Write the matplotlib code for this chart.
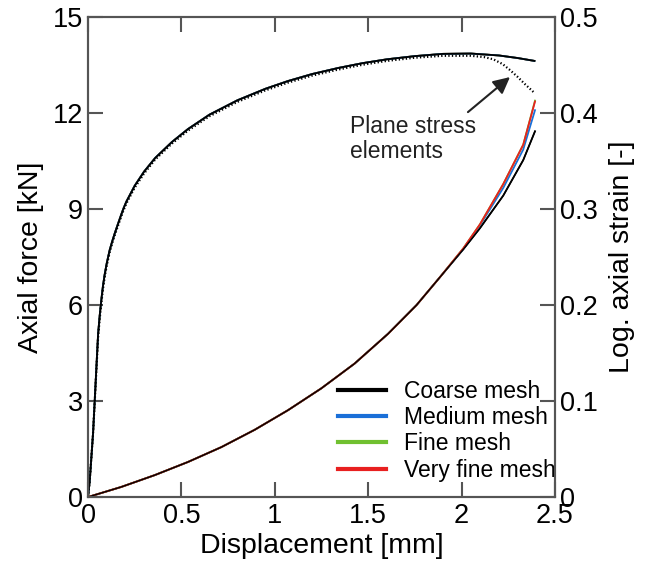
import matplotlib.pyplot as plt

plt.rcParams['font.family'] = ['Liberation Sans', 'DejaVu Sans']

# force-displacement (all meshes overlap)
disp = [0, 0.009, 0.027, 0.036, 0.045, 0.054, 0.063, 0.071, 0.08, 0.089, 0.1, 0.116,
        0.13, 0.143, 0.16, 0.178, 0.19, 0.205, 0.25, 0.3, 0.36, 0.45, 0.535, 0.65,
        0.8, 0.95, 1.07, 1.2, 1.34, 1.47, 1.6, 1.75, 1.9, 2.05, 2.2, 2.3, 2.39]
force = [0, 0.5, 2.0, 3.03, 4.07, 5.1, 5.7, 6.15, 6.6, 6.95, 7.3, 7.72,
         8.0, 8.24, 8.53, 8.83, 9.02, 9.23, 9.73, 10.17, 10.6, 11.1, 11.5, 11.95,
         12.4, 12.76, 13.0, 13.22, 13.41, 13.56, 13.68, 13.78, 13.85, 13.86, 13.8, 13.72, 13.63]

# plane stress elements (dotted)
disp_ps = [0, 0.009, 0.027, 0.036, 0.045, 0.054, 0.063, 0.071, 0.08, 0.089, 0.1, 0.116,
           0.13, 0.143, 0.16, 0.178, 0.19, 0.205, 0.25, 0.3, 0.36, 0.45, 0.535, 0.65,
           0.8, 0.95, 1.07, 1.2, 1.34, 1.47, 1.6, 1.75, 1.9, 2.05, 2.12, 2.17, 2.22,
           2.26, 2.3, 2.34, 2.39]
force_ps = [0, 0.5, 2.0, 3.0, 4.0, 5.0, 5.6, 6.05, 6.5, 6.87, 7.23, 7.65,
            7.94, 8.18, 8.47, 8.77, 8.96, 9.17, 9.67, 10.11, 10.55, 11.05, 11.45, 11.9,
            12.35, 12.71, 12.95, 13.17, 13.36, 13.51, 13.63, 13.73, 13.79, 13.79, 13.75, 13.68, 13.53,
            13.34, 13.13, 12.9, 12.63]

# log axial strain
disp_s = [0, 0.178, 0.357, 0.535, 0.714, 0.892, 1.071, 1.249, 1.427, 1.606, 1.759,
          1.884, 2.009, 2.098, 2.223, 2.33, 2.393]
strain_coarse = [0, 0.0105, 0.0228, 0.0365, 0.052, 0.07, 0.0905, 0.1132, 0.139, 0.17, 0.2,
                 0.229, 0.258, 0.28, 0.314, 0.351, 0.381]
strain_medium = [0, 0.0105, 0.0228, 0.0365, 0.052, 0.07, 0.0905, 0.1132, 0.139, 0.17, 0.2,
                 0.229, 0.2585, 0.283, 0.322, 0.362, 0.403]
strain_fine = [0, 0.0105, 0.0228, 0.0365, 0.052, 0.07, 0.0905, 0.1132, 0.139, 0.17, 0.2,
               0.229, 0.259, 0.284, 0.326, 0.367, 0.413]
strain_vfine = [0, 0.0105, 0.0228, 0.0365, 0.052, 0.07, 0.0905, 0.1132, 0.139, 0.17, 0.2,
                0.229, 0.259, 0.284, 0.326, 0.367, 0.412]

labels = ['Coarse mesh', 'Medium mesh', 'Fine mesh', 'Very fine mesh']
colors = ['black', '#1a6fd8', '#70c030', '#e82020']
strains = [strain_coarse, strain_medium, strain_fine, strain_vfine]

fig = plt.figure(figsize=(6.54, 5.69), dpi=100)
ax = fig.add_axes([0.1346, 0.1265, 0.714, 0.8435])
ax2 = ax.twinx()

spine_c = '#555555'
for a in (ax, ax2):
    for s in a.spines.values():
        s.set_color(spine_c)
        s.set_linewidth(1.5)

# force curves
for c in colors[::-1]:
    ax.plot(disp, force, color=c, lw=1.3)
ax.plot(disp_ps, force_ps, color='black', lw=1.6, ls=(0, (0.6, 1.0)))

# strain curves
for st, c in zip(strains, colors):
    ax2.plot(disp_s, st, color=c, lw=1.3)
ax2.plot(disp_s, strain_coarse, color='black', lw=1.0)

ax.set_xlim(0, 2.5)
ax.set_ylim(0, 15)
ax2.set_ylim(0, 0.5)

ax.set_xticks([0, 0.5, 1, 1.5, 2, 2.5])
ax.set_xticklabels(['0', '0.5', '1', '1.5', '2', '2.5'])
ax.set_yticks([0, 3, 6, 9, 12, 15])
ax2.set_yticks([0, 0.1, 0.2, 0.3, 0.4, 0.5])
ax2.set_yticklabels(['0', '0.1', '0.2', '0.3', '0.4', '0.5'])

ax.tick_params(axis='x', direction='in', top=True, length=11, width=1.5,
               color=spine_c, labelsize=19.5, pad=4)
ax.tick_params(axis='y', direction='in', length=11, width=1.5,
               color=spine_c, labelsize=19.5, pad=3.5)
ax2.tick_params(axis='y', direction='in', length=11, width=1.5,
                color=spine_c, labelsize=19.5, pad=3.5)

ax.set_xlabel('Displacement [mm]', fontsize=20.5, labelpad=3)
ax.set_ylabel('Axial force [kN]', fontsize=20.5, labelpad=6)
ax2.set_ylabel('Log. axial strain [-]', fontsize=20.5, labelpad=8)

ax.text(1.405, 11.95, 'Plane stress\nelements', fontsize=16.5, ha='left', va='top',
        linespacing=1.12, color='#222222')
ax.annotate('', xy=(2.259, 13.125), xytext=(2.034, 12.03),
            arrowprops=dict(arrowstyle='-|>,head_length=1.0,head_width=0.5',
                            color='#222222', lw=1.5, shrinkA=0, shrinkB=0))

handles = [plt.Line2D([], [], color=c, lw=3) for c in colors]
ax.legend(handles, labels, loc='upper left', bbox_to_anchor=(0.535, 0.244),
          frameon=False, fontsize=16.5, handlelength=2.1, handletextpad=0.8,
          labelspacing=0.14, borderaxespad=0, borderpad=0)

fig.savefig('out.png', dpi=100)
